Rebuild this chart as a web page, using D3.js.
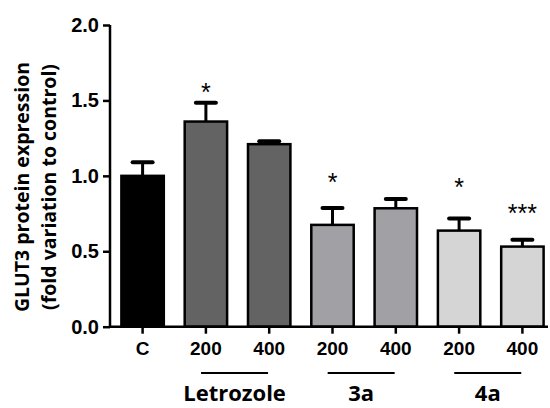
<!DOCTYPE html>
<html>
<head>
<meta charset="utf-8">
<script src="https://cdn.jsdelivr.net/npm/d3@7"></script>
<style>
  html, body { margin: 0; padding: 0; background: #fff; }
  svg { display: block; }
</style>
</head>
<body>
<svg id="chart" width="550" height="408"></svg>
<script>
// ---- data ----
const categories = ["C", "Letrozole 200", "Letrozole 400", "3a 200", "3a 400", "4a 200", "4a 400"];
const tickLabels = ["C", "200", "400", "200", "400", "200", "400"];
const values = [1.0, 1.36, 1.21, 0.675, 0.785, 0.637, 0.531];
const errors = [0.09, 0.125, 0.02, 0.112, 0.062, 0.08, 0.045];
const barColors = ["#000000", "#636363", "#636363", "#a1a1a5", "#a1a1a5", "#d5d5d5", "#d5d5d5"];
const significance = ["", "*", "", "*", "", "*", "***"];
const starLevels = [0, 1.59, 0, 0.995, 0, 0.962, 0.79];
const groupNames = ["Letrozole", "3a", "4a"];
const groupMembers = [["Letrozole 200", "Letrozole 400"], ["3a 200", "3a 400"], ["4a 200", "4a 400"]];
const yTicks = [0.0, 0.5, 1.0, 1.5, 2.0];
const yLabelLines = ["GLUT3 protein expression", "(fold variation to control)"];

// ---- layout ----
const svg = d3.select("#chart");
const x = d3.scaleBand().domain(categories).range([110, 555]).paddingInner(0.33).paddingOuter(0.18);
const y = d3.scaleLinear().domain([0, 2]).range([326.7, 25]);
const axisFont = "'Liberation Sans', Arial, sans-serif";
const labelFont = "'Open Sans', 'Noto Sans', sans-serif";

// bars
svg.append("g").selectAll("rect").data(categories).join("rect")
  .attr("x", d => x(d))
  .attr("y", (d, i) => y(values[i]))
  .attr("width", x.bandwidth())
  .attr("height", (d, i) => y(0) - y(values[i]))
  .attr("fill", (d, i) => barColors[i])
  .attr("stroke", "#000")
  .attr("stroke-width", 2.5);

// error bars
const eb = svg.append("g").attr("stroke", "#000");
categories.forEach((c, i) => {
  const cx = x(c) + x.bandwidth() / 2;
  eb.append("line").attr("x1", cx).attr("x2", cx)
    .attr("y1", y(values[i])).attr("y2", y(values[i] + errors[i]))
    .attr("stroke-width", 3);
  eb.append("line").attr("x1", cx - 10).attr("x2", cx + 10)
    .attr("y1", y(values[i] + errors[i])).attr("y2", y(values[i] + errors[i]))
    .attr("stroke-width", 4).attr("stroke-linecap", "round");
});

// significance stars
svg.append("g").selectAll("text").data(categories).join("text")
  .attr("x", d => x(d) + x.bandwidth() / 2)
  .attr("y", (d, i) => y(starLevels[i]) + 14)
  .attr("text-anchor", "middle")
  .attr("font-family", axisFont)
  .attr("font-size", 25)
  .attr("fill", "#000")
  .text((d, i) => significance[i]);

// y axis
const yAxis = svg.append("g").attr("transform", "translate(110,0)")
  .call(d3.axisLeft(y).tickValues(yTicks).tickFormat(d3.format(".1f")).tickSize(7).tickPadding(4));
yAxis.select(".domain").attr("d", `M0,${y(2)}V${y(0)}`).attr("stroke-width", 2.5);
yAxis.selectAll(".tick line").attr("stroke-width", 2.5);
yAxis.selectAll(".tick text").attr("font-family", axisFont).attr("font-weight", "bold")
  .attr("font-size", 20).attr("fill", "#000");

// x axis
const xAxis = svg.append("g").attr("transform", `translate(0,${y(0)})`)
  .call(d3.axisBottom(x).tickFormat((d, i) => tickLabels[i]).tickSize(7).tickPadding(8));
xAxis.select(".domain").attr("d", `M110,0H548`).attr("stroke-width", 2.5);
xAxis.selectAll(".tick line").attr("stroke-width", 2.5);
xAxis.selectAll(".tick text").attr("font-family", axisFont).attr("font-weight", "bold")
  .attr("font-size", 19).attr("fill", "#000");

// group lines and labels
groupNames.forEach((g, i) => {
  const a = x(groupMembers[i][0]) + x.bandwidth() / 2;
  const b = x(groupMembers[i][1]) + x.bandwidth() / 2;
  const mid = (a + b) / 2 - 3;
  svg.append("line").attr("x1", mid - 33.5).attr("x2", mid + 33.5)
    .attr("y1", 373).attr("y2", 373).attr("stroke", "#000").attr("stroke-width", 2);
  svg.append("text").attr("x", mid).attr("y", 401)
    .attr("text-anchor", "middle").attr("font-family", labelFont).attr("font-weight", "bold")
    .attr("font-size", 22).attr("fill", "#000").text(g);
});

// y label
const yl = svg.append("text").attr("transform", "translate(0,187) rotate(-90)")
  .attr("text-anchor", "middle").attr("font-family", labelFont).attr("font-weight", "bold")
  .attr("font-size", 19.5).attr("fill", "#000");
yl.append("tspan").attr("x", 0).attr("y", 29).text(yLabelLines[0]);
yl.append("tspan").attr("x", 0).attr("y", 56).text(yLabelLines[1]);
</script>
</body>
</html>
